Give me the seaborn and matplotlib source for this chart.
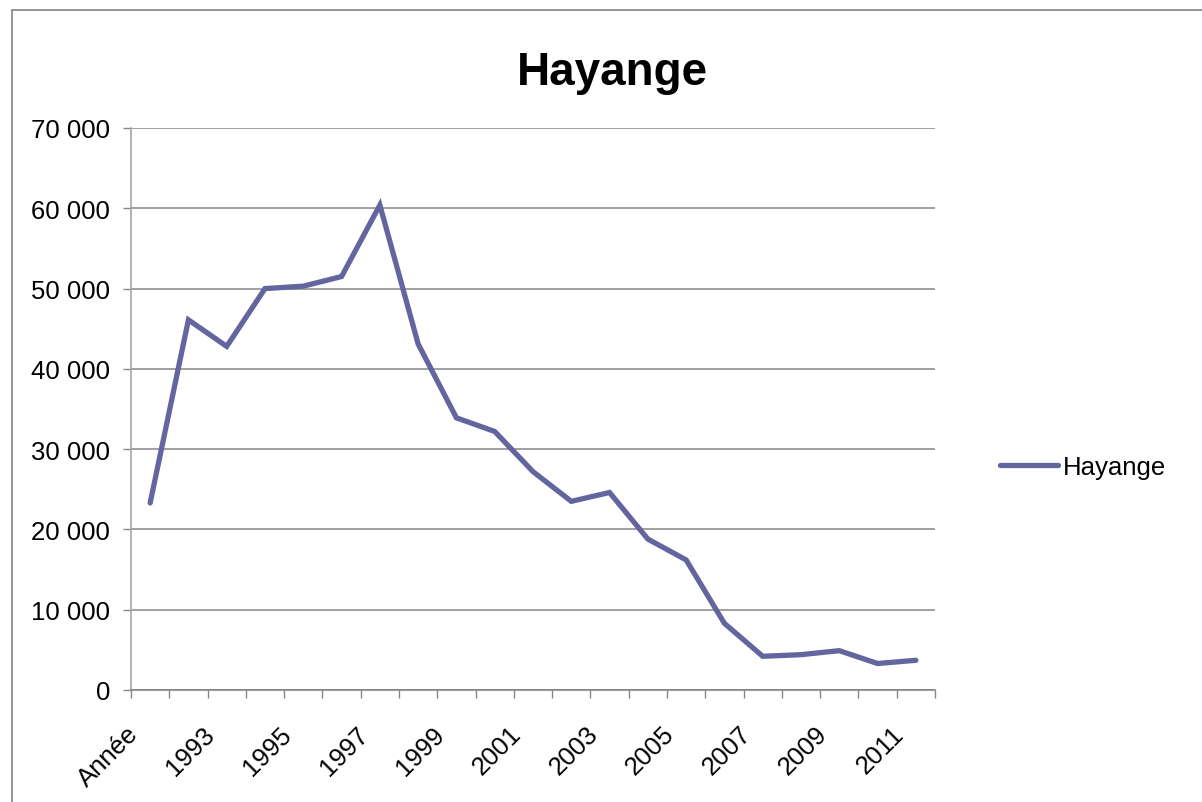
import numpy as np
import pandas as pd
import matplotlib
matplotlib.use("Agg")
import matplotlib.pyplot as plt
import matplotlib.ticker as mticker
from matplotlib.lines import Line2D
from matplotlib.transforms import ScaledTranslation
import seaborn as sns

# data
categories = ["Année"] + [str(y) for y in range(1992, 2012)]
values = [23300, 46100, 42800, 50000, 50300, 51500, 60400, 43100, 33900, 32200,
          27200, 23500, 24600, 18800, 16200, 8300, 4200, 4400, 4900, 3300, 3700]
series_name = "Hayange"
title = "Hayange"

df = pd.DataFrame({"pos": np.arange(len(categories)), "val": values,
                   "serie": series_name})

sns.set_style("white")
plt.rcParams["font.family"] = ["Liberation Sans", "DejaVu Sans"]
plt.rcParams["text.color"] = "black"

line_color = "#63659f"
grid_color = "#868686"

fig = plt.figure(figsize=(12.02, 8.03), dpi=100)
ax = fig.add_axes([131 / 1202, 1 - 691 / 803, (935 - 131) / 1202, (691 - 129) / 803])

sns.lineplot(data=df, x="pos", y="val", hue="serie", palette=[line_color],
             linewidth=3.8, ax=ax, legend=True)
for l in ax.lines:
    l.set_solid_capstyle("round")
    l.set_solid_joinstyle("miter")

# y axis
ax.set_ylim(0, 70000)
ax.set_yticks(np.arange(0, 70001, 10000))
ax.yaxis.set_major_formatter(mticker.FuncFormatter(lambda v, p: f"{int(v):,}".replace(",", " ")))
ax.yaxis.grid(True, color=grid_color, linewidth=1.1)
ax.set_axisbelow(True)
ax.tick_params(axis="y", which="major", length=6, width=1, color=grid_color,
               labelsize=18.5, labelcolor="black", pad=9, left=True)

# x axis: ticks between categories, labels every other category
ax.set_xlim(-0.5, len(categories) - 0.5)
ax.set_xticks(np.arange(-0.5, len(categories), 1.0), minor=True)
label_pos = np.arange(0, len(categories), 2)
ax.set_xticks(label_pos)
ax.set_xticklabels([categories[i] for i in label_pos], rotation=45, ha="right",
                   va="top", rotation_mode="anchor")
ax.tick_params(axis="x", which="major", length=0, labelsize=18.5,
               labelcolor="black", pad=14)
ax.tick_params(axis="x", which="minor", length=6, width=1, color=grid_color,
               bottom=True)
for lab in ax.get_xticklabels():
    lab.set_transform(lab.get_transform() + ScaledTranslation(-0.24, -0.12, fig.dpi_scale_trans))

ax.set_xlabel("")
ax.set_ylabel("")
for s in ["top", "right"]:
    ax.spines[s].set_visible(False)
ax.spines["left"].set_color("#a6a6a6")
ax.spines["bottom"].set_color(grid_color)
ax.spines["left"].set_linewidth(1.2)
ax.spines["bottom"].set_linewidth(1.2)

# legend outside on the right
handles, labels = ax.get_legend_handles_labels()
leg = ax.legend(handles, labels, loc="center left", bbox_to_anchor=(1000 / 1202, 1 - 468 / 803),
                bbox_transform=fig.transFigure, frameon=False, fontsize=18.5,
                handlelength=2.25, handletextpad=0.2, borderpad=0, borderaxespad=0)
for t in leg.get_texts():
    t.set_color("black")

# title
fig.text(612 / 1202, 1 - 85 / 803, title, ha="center", va="baseline",
         fontsize=33, fontweight="bold", color="black")

# chart area border (only top and left visible)
fig.add_artist(Line2D([12 / 1202, 12 / 1202], [0, 1 - 11 / 803], color="#8c8c8c", linewidth=1.3))
fig.add_artist(Line2D([12 / 1202, 1], [1 - 11 / 803, 1 - 11 / 803], color="#8c8c8c", linewidth=1.3))

fig.savefig("out.png", dpi=100)
